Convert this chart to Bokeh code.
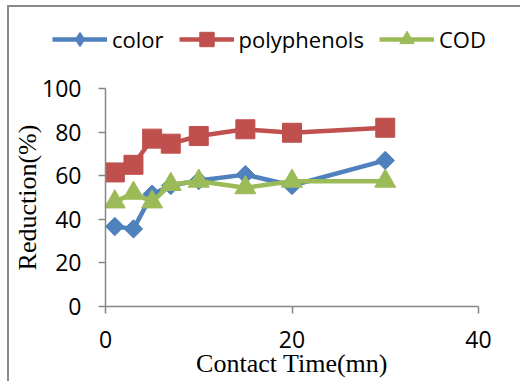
from bokeh.plotting import figure
from bokeh.models import Legend, LegendItem, FixedTicker
from bokeh.layouts import column
from bokeh.embed import file_html
from bokeh.resources import INLINE
import numpy as np

time_mn = [1, 3, 5, 7, 10, 15, 20, 30]
color_red = [36.7, 35.6, 51.5, 55.5, 57.8, 60.5, 55.5, 67.0]
polyphenols_red = [61.5, 65.0, 77.0, 74.7, 78.2, 81.3, 79.7, 82.0]
cod_red = [48.0, 52.0, 48.0, 56.0, 57.5, 54.5, 57.5, 57.5]
series_names = ["color", "polyphenols", "COD"]

x_ticks = [0, 20, 40]
y_ticks = [0, 20, 40, 60, 80, 100]

BLUE = "#4F81BD"
RED = "#C0504D"
GREEN = "#9BBB59"
AXIS = "#868686"

W = 511
LEG_H = 60
H = 374 - LEG_H

styles_by_series = [
    dict(color=BLUE, marker="square", angle=np.pi / 4, size=13, lmarker="diamond"),
    dict(color=RED, marker="square", angle=0.0, size=19, lmarker="square"),
    dict(color=GREEN, marker="triangle", angle=0.0, size=21, lmarker="triangle"),
]

# main plot
p = figure(width=W, height=H, x_range=(0, 40), y_range=(0, 100),
           output_backend="svg", toolbar_location=None,
           min_border_left=96, min_border_right=W - 469,
           min_border_top=81 - LEG_H, min_border_bottom=374 - 299)
p.frame_align = False
p.outline_line_color = None
p.grid.visible = False
p.background_fill_color = "white"
p.border_fill_color = "white"

for ys, st in zip([color_red, polyphenols_red, cod_red], styles_by_series):
    p.line(time_mn, ys, line_color=st["color"], line_width=4.5)
    p.scatter(time_mn, ys, marker=st["marker"], angle=st["angle"], size=st["size"],
              fill_color=st["color"], line_color=st["color"])

for ax in (p.xaxis[0], p.yaxis[0]):
    ax.axis_line_color = AXIS
    ax.axis_line_width = 1.5
    ax.major_tick_line_color = AXIS
    ax.major_tick_line_width = 1.5
    ax.major_tick_out = 7
    ax.major_tick_in = 0
    ax.minor_tick_line_color = None
    ax.major_label_text_font = "Open Sans"
    ax.major_label_text_font_size = "23px"
    ax.major_label_text_color = "black"
    ax.axis_label_text_font = "Liberation Serif"
    ax.axis_label_text_font_size = "26px"
    ax.axis_label_text_font_style = "normal"
    ax.axis_label_text_color = "black"

p.xaxis.ticker = FixedTicker(ticks=x_ticks)
p.yaxis.ticker = FixedTicker(ticks=y_ticks)
p.xaxis.axis_label = "Contact Time(mn)"
p.yaxis.axis_label = "Reduction(%)"
p.xaxis.major_label_standoff = 17
p.xaxis.axis_label_standoff = -2
p.yaxis.major_label_standoff = 17
p.yaxis.axis_label_standoff = -3

# legend strip
lf = figure(width=W, height=LEG_H, x_range=(0, 1), y_range=(0, 1),
            x_axis_location=None, y_axis_location=None,
            output_backend="svg", toolbar_location=None,
            min_border=0, min_border_left=0, min_border_right=0,
            min_border_top=0, min_border_bottom=0)
lf.frame_align = False
lf.grid.visible = False
lf.outline_line_color = None
lf.border_fill_color = "white"
items = []
for name, st in zip(series_names, styles_by_series):
    r1 = lf.line([-5, -4], [-5, -4], line_color=st["color"], line_width=4.5)
    r2 = lf.scatter([-5], [-5], marker=st["lmarker"], size=10,
                    fill_color=st["color"], line_color=st["color"])
    items.append(LegendItem(label=name, renderers=[r1, r2]))

legend = Legend(items=items, orientation="horizontal", location=(43, 10))
legend.glyph_width = 55
legend.glyph_height = 36
legend.label_height = 36
legend.label_standoff = 5
legend.spacing = 15
legend.padding = 0
legend.margin = 0
legend.border_line_color = None
legend.background_fill_alpha = 0
legend.label_text_font = "Open Sans"
legend.label_text_font_size = "22px"
legend.label_text_color = "black"
lf.add_layout(legend, "center")

layout = column(lf, p, spacing=0)
layout.margin = (5, 0, 0, 7)
layout.styles = {"border-left": "2px solid #8a8a8a", "border-top": "2px solid #8a8a8a",
                 "background": "white"}

open("out.html", "w").write(file_html(layout, INLINE))
